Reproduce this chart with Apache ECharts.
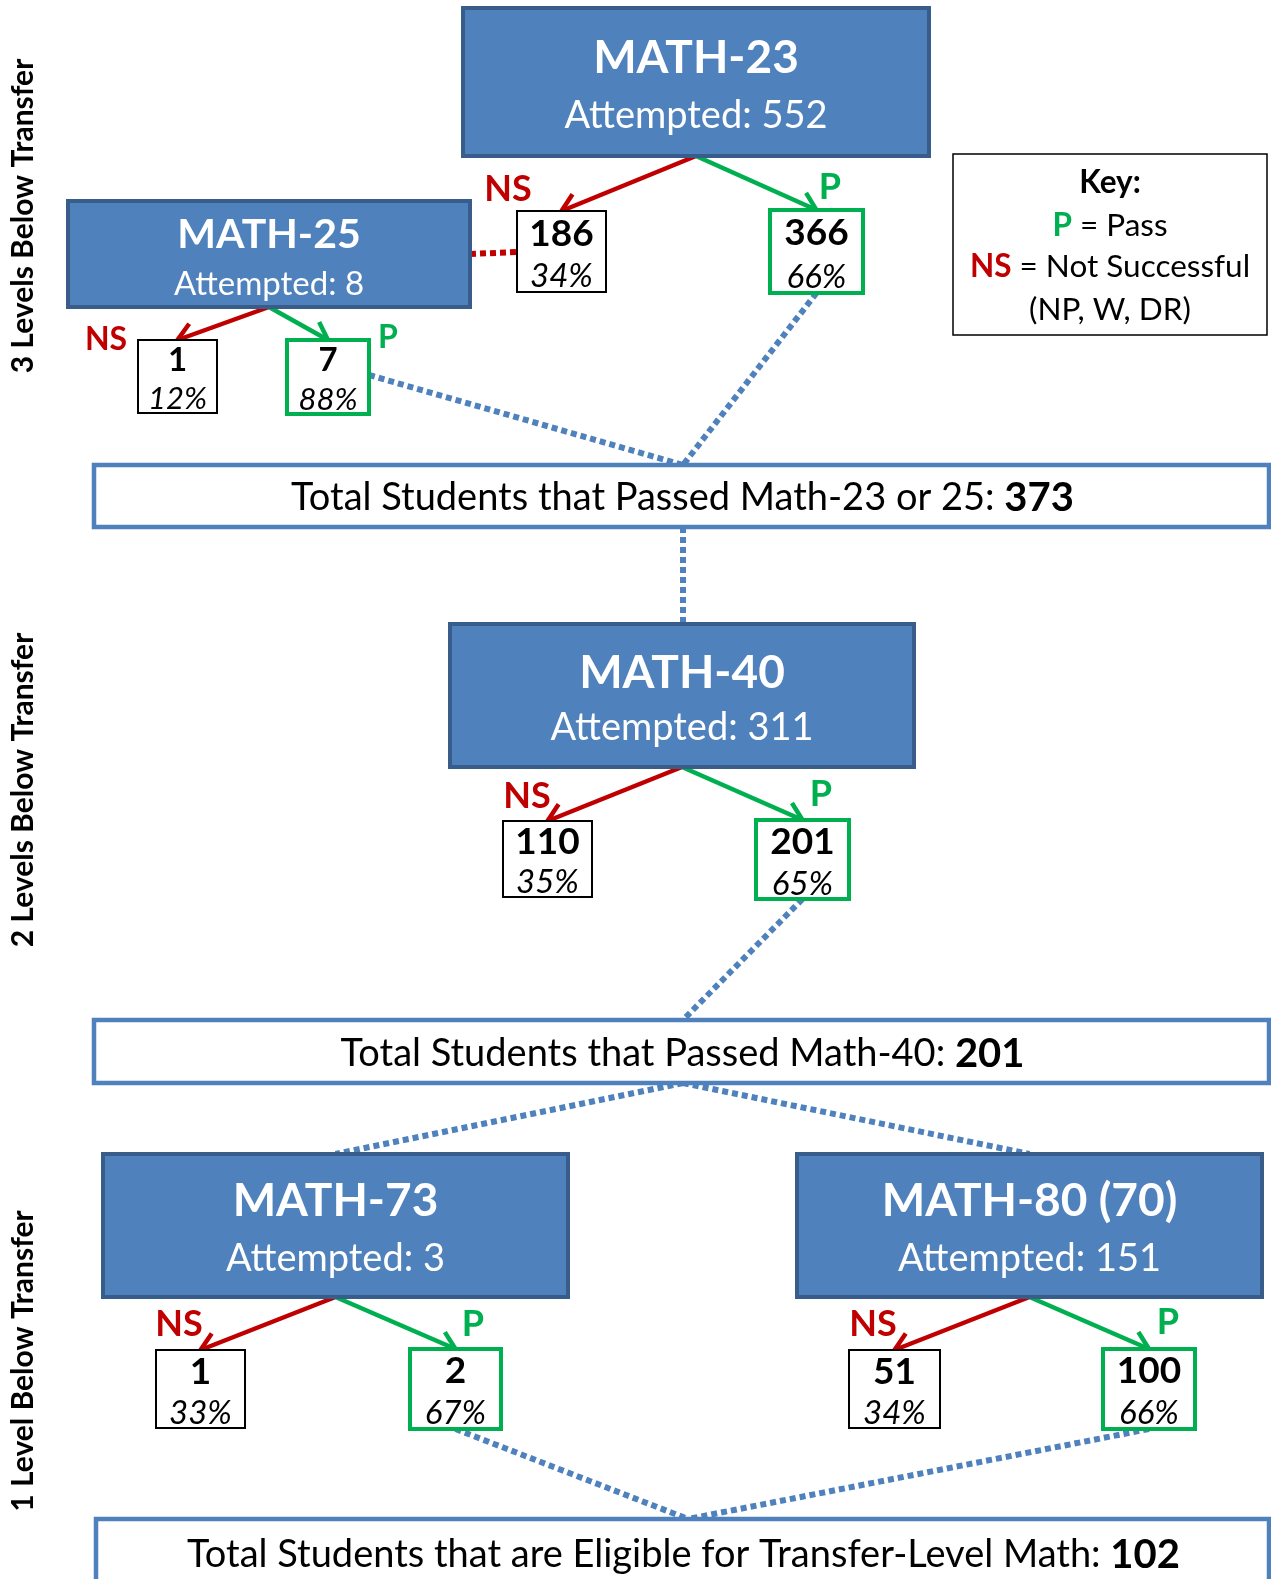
<!DOCTYPE html>
<html>
<head>
<meta charset="utf-8">
<script src="https://cdn.jsdelivr.net/npm/echarts@6/dist/echarts.min.js"></script>
<style>
  html, body { margin: 0; padding: 0; background: #fff; }
  #chart { width: 1271px; height: 1579px; }
</style>
</head>
<body>
<div id="chart"></div>
<script>
  // data
  const courses = ['MATH-23', 'MATH-25', 'MATH-40', 'MATH-73', 'MATH-80 (70)'];
  const attempted = [552, 8, 311, 3, 151];
  const notSuccessful = [186, 1, 110, 1, 51];
  const passed = [366, 7, 201, 2, 100];
  const nsPct = [34, 12, 35, 33, 34];
  const passPct = [66, 88, 65, 67, 66];
  const totalLabels = ['Total Students that Passed Math-23 or 25: ', 'Total Students that Passed Math-40: ', 'Total Students that are Eligible for Transfer-Level Math: '];
  const totalValues = [373, 201, 102];
  const levelLabels = ['3 Levels Below Transfer', '2 Levels Below Transfer', '1 Level Below Transfer'];
  const keyLines = ['Key:', 'P = Pass', 'NS = Not Successful', '(NP, W, DR)'];

  // layout (diagram units, same as the hidden axes)
  const courseBox = [[463, 8, 929, 156], [68, 201, 470, 307], [450, 624, 914, 767], [103, 1154, 568, 1297], [797, 1154, 1262, 1297]];
  const courseText = [[50, 108, 46, 38], [34, 83, 41, 33], [49, 104, 46, 38], [47, 105, 46, 38], [47, 105, 46, 38]];
  const nsBox = [[517, 211, 606, 292], [138, 340, 217, 413], [503, 821, 592, 897], [156, 1350, 245, 1428], [849, 1350, 940, 1428]];
  const pBox = [[770, 210, 863, 293], [287, 340, 369, 414], [756, 820, 849, 899], [410, 1349, 501, 1429], [1103, 1349, 1195, 1429]];
  const nsTag = [[508, 189], [106, 340], [527, 796], [179, 1324], [873, 1324]];
  const pTag = [[830, 187], [388, 338], [821, 794], [473, 1324], [1168, 1322]];
  const totalBox = [[94, 465, 1269, 527], [94, 1020, 1269, 1083], [96, 1519, 1269, 1600]];
  const totalTextY = [498, 1054, 1555];
  const levelPos = [[23, 216], [23, 790], [23, 1361]];
  const keyBox = [953, 154, 1267, 335];
  const keyLineY = [183, 226, 267, 310];

  const FONT = 'Lato, "Open Sans", sans-serif';
  const BLUE = '#4f81bd', DARK = '#385d8a', RED = '#c00000', GREEN = '#00b050';

  const chart = echarts.init(document.getElementById('chart'));

  function rect(api, b, style) {
    const p0 = api.coord([b[0], b[1]]);
    const p1 = api.coord([b[2], b[3]]);
    return { type: 'rect', shape: { x: p0[0], y: p0[1], width: p1[0] - p0[0], height: p1[1] - p0[1] }, style: style };
  }
  function text(api, x, y, str, style) {
    const p = api.coord([x, y]);
    return {
      type: 'text', x: p[0], y: p[1],
      style: Object.assign({ text: str, fontFamily: FONT, align: 'center', verticalAlign: 'middle', fill: '#000' }, style)
    };
  }
  function arrow(api, from, to, color) {
    const a = api.coord(from), b = api.coord(to);
    const ang = Math.atan2(b[1] - a[1], b[0] - a[0]);
    const L = 20, t = 0.6;
    const h1 = [b[0] - L * Math.cos(ang - t), b[1] - L * Math.sin(ang - t)];
    const h2 = [b[0] - L * Math.cos(ang + t), b[1] - L * Math.sin(ang + t)];
    return [
      { type: 'line', shape: { x1: a[0], y1: a[1], x2: b[0], y2: b[1] }, style: { stroke: color, lineWidth: 4.5 } },
      { type: 'polyline', shape: { points: [h1, b, h2] }, style: { stroke: color, lineWidth: 4.5, fill: null } }
    ];
  }
  const mid = b => (b[0] + b[2]) / 2;

  // dotted connectors, anchored on the boxes
  const blueLinks = [
    [[pBox[1][2], (pBox[1][1] + pBox[1][3]) / 2 - 2], [683, totalBox[0][1]]],
    [[mid(pBox[0]), pBox[0][3]], [683, totalBox[0][1]]],
    [[683, totalBox[0][3]], [683, courseBox[2][1]]],
    [[mid(pBox[2]), pBox[2][3]], [683, totalBox[1][1]]],
    [[683, totalBox[1][3]], [mid(courseBox[3]), courseBox[3][1]]],
    [[683, totalBox[1][3]], [mid(courseBox[4]), courseBox[4][1]]],
    [[mid(pBox[3]), pBox[3][3]], [688, totalBox[2][1]]],
    [[mid(pBox[4]), pBox[4][3]], [688, totalBox[2][1]]]
  ];
  const redLinks = [
    [[courseBox[1][2], (courseBox[1][1] + courseBox[1][3]) / 2], [nsBox[0][0], (courseBox[1][1] + courseBox[1][3]) / 2 - 2]]
  ];

  const option = {
    animation: false,
    grid: { left: 0, right: 0, top: 0, bottom: 0 },
    xAxis: { type: 'value', min: 0, max: 1271, show: false },
    yAxis: { type: 'value', min: 0, max: 1579, inverse: true, show: false },
    series: [
      {
        type: 'lines', coordinateSystem: 'cartesian2d', z: 1,
        lineStyle: { color: BLUE, width: 6, type: [6, 4], opacity: 1 },
        data: blueLinks.map(c => ({ coords: c }))
      },
      {
        type: 'lines', coordinateSystem: 'cartesian2d', z: 1,
        lineStyle: { color: RED, width: 6, type: [6, 4], opacity: 1 },
        data: redLinks.map(c => ({ coords: c }))
      },
      {
        // course boxes
        type: 'custom', z: 3,
        data: courses.map((c, i) => [i, attempted[i]]),
        renderItem: function (params, api) {
          const i = api.value(0);
          const b = courseBox[i], t = courseText[i];
          return {
            type: 'group', children: [
              rect(api, b, { fill: BLUE, stroke: DARK, lineWidth: 4 }),
              text(api, mid(b), b[1] + t[0], courses[i], { fill: '#fff', fontWeight: 'bold', fontSize: t[2] }),
              text(api, mid(b), b[1] + t[1], 'Attempted: ' + api.value(1), { fill: '#fff', fontSize: t[3] })
            ]
          };
        }
      },
      {
        // outcome boxes with arrows
        type: 'custom', z: 2,
        data: courses.flatMap((c, i) => [[i, 0, notSuccessful[i], nsPct[i]], [i, 1, passed[i], passPct[i]]]),
        renderItem: function (params, api) {
          const i = api.value(0), pass = api.value(1) === 1;
          const b = pass ? pBox[i] : nsBox[i];
          const tag = pass ? pTag[i] : nsTag[i];
          const cb = courseBox[i];
          const h = b[3] - b[1];
          const small = i === 1;
          const color = pass ? GREEN : RED;
          return {
            type: 'group', children: [
              ...arrow(api, [mid(cb), cb[3]], [mid(b), b[1]], color),
              rect(api, b, { fill: '#fff', stroke: pass ? GREEN : '#000', lineWidth: pass ? 4 : 2 }),
              text(api, mid(b), b[1] + h * 0.28, String(api.value(2)), { fontWeight: 'bold', fontSize: small ? 33 : 37 }),
              text(api, mid(b), b[1] + h * 0.81, api.value(3) + '%', { fontStyle: 'italic', fontSize: small ? 31 : 33 }),
              text(api, tag[0], tag[1], pass ? 'P' : 'NS', { fill: color, fontWeight: 'bold', fontSize: small ? 32 : 36 })
            ]
          };
        }
      },
      {
        // total boxes
        type: 'custom', z: 2,
        data: totalValues.map((v, k) => [k, v]),
        renderItem: function (params, api) {
          const k = api.value(0);
          const b = totalBox[k];
          return {
            type: 'group', children: [
              rect(api, b, { fill: '#fff', stroke: BLUE, lineWidth: 4.5 }),
              text(api, mid(b) + 1, totalTextY[k], '{n|' + totalLabels[k] + '}{b|' + api.value(1) + '}', {
                rich: {
                  n: { fontFamily: FONT, fontSize: 38, fill: '#000' },
                  b: { fontFamily: FONT, fontSize: 40, fontWeight: 'bold', fill: '#000' }
                }
              })
            ]
          };
        }
      },
      {
        // key box
        type: 'custom', z: 2,
        data: [[0]],
        renderItem: function (params, api) {
          const cx = mid(keyBox);
          const f = { fontFamily: FONT, fontSize: 31.5, fill: '#000' };
          return {
            type: 'group', children: [
              rect(api, keyBox, { fill: '#fff', stroke: '#000', lineWidth: 1.5 }),
              text(api, cx, keyLineY[0], keyLines[0], { fontWeight: 'bold', fontSize: 31.5 }),
              text(api, cx, keyLineY[1], '{g|P}{n|' + keyLines[1].slice(1) + '}', {
                rich: { g: Object.assign({}, f, { fill: GREEN, fontWeight: 'bold' }), n: f }
              }),
              text(api, cx, keyLineY[2], '{r|NS}{n|' + keyLines[2].slice(2) + '}', {
                rich: { r: Object.assign({}, f, { fill: RED, fontWeight: 'bold' }), n: f }
              }),
              text(api, cx, keyLineY[3], keyLines[3], { fontSize: 31.5 })
            ]
          };
        }
      },
      {
        // rotated level labels
        type: 'custom', z: 2,
        data: levelLabels.map((l, k) => [k]),
        renderItem: function (params, api) {
          const k = api.value(0);
          const p = api.coord(levelPos[k]);
          return {
            type: 'text', x: p[0], y: p[1], rotation: Math.PI / 2,
            style: { text: levelLabels[k], fontFamily: FONT, fontWeight: 'bold', fontSize: 30, fill: '#000', align: 'center', verticalAlign: 'middle' }
          };
        }
      }
    ]
  };

  chart.setOption(option);
</script>
</body>
</html>
